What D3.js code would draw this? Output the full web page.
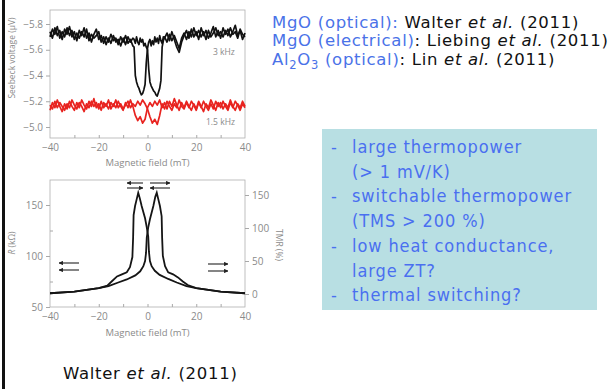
<!DOCTYPE html>
<html>
<head>
<meta charset="utf-8">
<script src="https://cdn.jsdelivr.net/npm/d3@7"></script>
<style>
  body { margin: 0; background: #fff; }
  svg { display: block; }
  .ax text { font-family: "Open Sans", sans-serif; fill: #8a8a8a; }
  .ax line, .ax path { stroke: #a8a8a8; }
</style>
</head>
<body>
<svg id="slide" width="611" height="389"></svg>
<script>
// field sweep grids (mT): 1 mT steps, 0.5 mT around the switching region for 3 kHz
const fieldGrid = d3.range(-40, 41);
const fieldFine = d3.range(-40, -5.5).concat(d3.range(-5.5, 7.01, 0.5), d3.range(8, 41));

// Seebeck voltage (uV), 3 kHz, two sweeps (on fieldFine)
const black3kA = [-5.74,-5.69,-5.77,-5.71,-5.75,-5.68,-5.76,-5.72,-5.78,-5.70,-5.74,-5.67,-5.75,-5.71,-5.77,-5.69,-5.73,-5.66,-5.72,-5.76,-5.68,-5.71,-5.65,-5.70,-5.66,-5.72,-5.67,-5.69,-5.64,-5.70,-5.66,-5.71,-5.65,-5.68,-5.63,
  -5.62,-5.40,-5.35,-5.32,-5.30,-5.27,-5.25,-5.26,-5.29,-5.33,-5.50,-5.61,-5.66,-5.68,-5.63,-5.67,-5.64,-5.70,-5.66,-5.69,-5.65,-5.71,-5.67,-5.65,-5.70,-5.69,
  -5.73,-5.67,-5.74,-5.68,-5.62,-5.58,-5.66,-5.71,-5.75,-5.69,-5.76,-5.70,-5.74,-5.68,-5.77,-5.71,-5.75,-5.69,-5.73,-5.78,-5.70,-5.75,-5.69,-5.77,-5.72,-5.76,-5.70,-5.74,-5.79,-5.71,-5.75,-5.68,-5.73];
const black3kB = [-5.70,-5.76,-5.72,-5.78,-5.69,-5.74,-5.70,-5.77,-5.71,-5.75,-5.68,-5.73,-5.69,-5.74,-5.70,-5.76,-5.67,-5.72,-5.69,-5.71,-5.74,-5.66,-5.70,-5.64,-5.69,-5.65,-5.71,-5.66,-5.68,-5.63,-5.69,-5.64,-5.70,-5.66,-5.69,
  -5.68,-5.65,-5.70,-5.66,-5.64,-5.69,-5.66,-5.68,-5.63,-5.65,-5.62,-5.60,-5.45,-5.35,-5.32,-5.30,-5.28,-5.27,-5.25,-5.24,-5.27,-5.30,-5.36,-5.62,-5.67,-5.70,
  -5.66,-5.72,-5.67,-5.71,-5.66,-5.61,-5.69,-5.73,-5.68,-5.74,-5.70,-5.77,-5.71,-5.75,-5.70,-5.74,-5.68,-5.75,-5.70,-5.73,-5.77,-5.71,-5.74,-5.70,-5.75,-5.71,-5.77,-5.72,-5.74,-5.69,-5.76,-5.72,-5.70];
// 1.5 kHz (on fieldGrid)
const red15kA = [-5.13,-5.19,-5.15,-5.21,-5.16,-5.12,-5.18,-5.14,-5.20,-5.16,-5.13,-5.19,-5.15,-5.21,-5.17,-5.14,-5.20,-5.16,-5.22,-5.15,-5.18,-5.13,-5.19,-5.16,-5.21,-5.14,-5.18,-5.15,-5.20,-5.16,-5.13,-5.19,-5.15,-5.21,-5.16,-5.09,-5.05,-5.08,-5.03,-5.06,-5.15,-5.19,-5.16,-5.20,-5.17,-5.21,-5.15,-5.19,-5.14,-5.20,-5.16,-5.22,-5.17,-5.13,-5.19,-5.15,-5.20,-5.16,-5.13,-5.18,-5.14,-5.20,-5.16,-5.12,-5.18,-5.15,-5.21,-5.17,-5.13,-5.19,-5.15,-5.20,-5.16,-5.13,-5.19,-5.15,-5.20,-5.17,-5.13,-5.18,-5.15];
const red15kB = [-5.17,-5.14,-5.20,-5.15,-5.19,-5.16,-5.13,-5.18,-5.15,-5.21,-5.17,-5.14,-5.19,-5.16,-5.12,-5.18,-5.15,-5.20,-5.16,-5.19,-5.14,-5.20,-5.15,-5.18,-5.14,-5.19,-5.16,-5.21,-5.15,-5.18,-5.14,-5.17,-5.20,-5.15,-5.18,-5.16,-5.20,-5.17,-5.21,-5.18,-5.14,-5.08,-5.03,-5.06,-5.02,-5.09,-5.18,-5.14,-5.20,-5.16,-5.13,-5.18,-5.15,-5.21,-5.16,-5.14,-5.19,-5.15,-5.20,-5.17,-5.13,-5.19,-5.15,-5.20,-5.16,-5.13,-5.18,-5.14,-5.20,-5.16,-5.19,-5.14,-5.18,-5.15,-5.21,-5.16,-5.13,-5.18,-5.15,-5.20,-5.16];

// resistance (kOhm) vs field, two sweep directions
const sweepLeftField = [-40,-30,-20,-16.5,-14.5,-12.5,-10.5,-8.5,-7.2,-6.2,-5.9,-5.7,-5.1,-4.4,-3.8,-3.2,-2.4,-1,-0.3,0.3,0.6,1,1.7,3,5,8.5,12,16,20,30,40];
const sweepLeftR     = [63.5,65,68.5,71,75.5,80,82,84,89,99,118,140,149,156,162,157,149,137,128,119,104,95,90,85.5,81.5,77.5,74,70.5,68.5,65,63.5];
const sweepRightField = [-40,-30,-20,-16,-12,-8.5,-5,-3,-1.7,-1,-0.6,-0.3,0.3,1,2.4,3.2,3.8,4.4,5.1,5.8,6,6.3,7.2,8.5,10.5,12.5,14.5,16.5,20,30,40];
const sweepRightR     = [63.5,65,68.5,70.5,74,77,81,85,90,95,103,118,128,136,149,158,162,156,149,139,118,100,90,84,82,79,75,71.5,68.5,65,63.5];

const fieldTicks = [-40, -20, 0, 20, 40];
const seebeckTicks = [-5.8, -5.6, -5.4, -5.2, -5.0];
const rTicks = [50, 100, 150];
const tmrTicks = [0, 50, 100, 150];

const refLines = [
  {head: "MgO (optical):", name: " Walter ", year: " (2011)"},
  {head: "MgO (electrical)", name: ": Liebing ", year: " (2011)"},
  {head: null, name: ": Lin ", year: " (2011)"}
];
const bullets = [
  ["-", "large thermopower"], ["", "(> 1 mV/K)"],
  ["-", "switchable thermopower"], ["", "(TMS > 200 %)"],
  ["-", "low heat conductance,"], ["", "large ZT?"],
  ["-", "thermal switching?"]
];

const svg = d3.select("#slide");
const minus = s => String(s).replace("-", "\u2212");

// left slide border
svg.append("rect").attr("x", 2).attr("y", 0).attr("width", 3).attr("height", 389).attr("fill", "#111");

// ---------- top panel: Seebeck voltage ----------
const x = d3.scaleLinear().domain([-40, 40]).range([50, 245]);
const yS = d3.scaleLinear().domain([-5.8, -5.0]).range([24, 127]);
const topPanel = svg.append("g");
topPanel.append("rect").attr("x", 50).attr("y", 10).attr("width", 195).attr("height", 128)
  .attr("fill", "none").attr("stroke", "#b0b0b0").attr("stroke-width", 0.8);

topPanel.append("g").attr("class", "ax").attr("transform", "translate(50,0)")
  .call(d3.axisLeft(yS).tickValues(seebeckTicks).tickSize(4).tickFormat(d => minus(d.toFixed(1))))
  .call(g => g.select(".domain").remove())
  .selectAll("text").attr("font-size", 10);
topPanel.append("g").attr("class", "ax").attr("transform", "translate(0,138)")
  .call(d3.axisBottom(x).tickValues(fieldTicks).tickSize(0).tickPadding(6).tickFormat(minus))
  .call(g => g.select(".domain").remove())
  .selectAll("text").attr("font-size", 10);
topPanel.append("g").attr("class", "ax").attr("transform", "translate(0,138)")
  .call(d3.axisTop(x).tickValues([-30, -20, -10, 0, 10, 20, 30]).tickSize(3).tickFormat(""))
  .call(g => g.select(".domain").remove());

const lineOn = grid => d3.line().x((d, i) => x(grid[i])).y(d => yS(d));
[[black3kA, fieldFine, "#111"], [black3kB, fieldFine, "#111"],
 [red15kA, fieldGrid, "#e8231f"], [red15kB, fieldGrid, "#e8231f"]].forEach(([s, grid, c]) => {
  topPanel.append("path").datum(s).attr("d", lineOn(grid)).attr("fill", "none")
    .attr("stroke", c).attr("stroke-width", 1.7).attr("stroke-linejoin", "round");
});

topPanel.append("text").attr("x", 213).attr("y", 55).text("3 kHz")
  .attr("font-family", "Open Sans").attr("font-size", 8.5).attr("fill", "#8a8a8a");
topPanel.append("text").attr("x", 206).attr("y", 125).text("1.5 kHz")
  .attr("font-family", "Open Sans").attr("font-size", 8.5).attr("fill", "#8a8a8a");
topPanel.append("text").attr("x", 147.5).attr("y", 166).attr("text-anchor", "middle")
  .text("Magnetic field (mT)").attr("font-family", "Open Sans").attr("font-size", 9.5).attr("fill", "#8a8a8a");
topPanel.append("text").attr("transform", "translate(15,58) rotate(-90)").attr("text-anchor", "middle")
  .text("Seebeck voltage (\u03bcV)").attr("font-family", "Open Sans").attr("font-size", 8.5).attr("fill", "#8a8a8a");

// ---------- bottom panel: resistance ----------
const yR = d3.scaleLinear().domain([50, 150]).range([307, 205]);
const yT = d3.scaleLinear().domain([0, 150]).range([294, 195]);
const bot = svg.append("g");
bot.append("rect").attr("x", 50).attr("y", 180).attr("width", 195).attr("height", 127)
  .attr("fill", "none").attr("stroke", "#b0b0b0").attr("stroke-width", 0.8);

bot.append("g").attr("class", "ax").attr("transform", "translate(50,0)")
  .call(d3.axisLeft(yR).tickValues(rTicks).tickSize(4))
  .call(g => g.select(".domain").remove())
  .selectAll("text").attr("font-size", 10);
bot.append("g").attr("class", "ax").attr("transform", "translate(50,0)")
  .call(d3.axisRight(yR).tickValues([75, 125]).tickSize(3).tickFormat(""))
  .call(g => g.select(".domain").remove());
bot.append("g").attr("class", "ax").attr("transform", "translate(245,0)")
  .call(d3.axisRight(yT).tickValues(tmrTicks).tickSize(4))
  .call(g => g.select(".domain").remove())
  .selectAll("text").attr("font-size", 10);
bot.append("g").attr("class", "ax").attr("transform", "translate(0,307)")
  .call(d3.axisBottom(x).tickValues(fieldTicks).tickSize(0).tickPadding(6).tickFormat(minus))
  .call(g => g.select(".domain").remove())
  .selectAll("text").attr("font-size", 10);
bot.append("g").attr("class", "ax").attr("transform", "translate(0,307)")
  .call(d3.axisTop(x).tickValues([-30, -20, -10, 0, 10, 20, 30]).tickSize(3).tickFormat(""))
  .call(g => g.select(".domain").remove());

const lineR = fld => d3.line().x((d, i) => x(fld[i])).y(d => yR(d));
bot.append("path").datum(sweepLeftR).attr("d", lineR(sweepLeftField))
  .attr("fill", "none").attr("stroke", "#151515").attr("stroke-width", 1.8);
bot.append("path").datum(sweepRightR).attr("d", lineR(sweepRightField))
  .attr("fill", "none").attr("stroke", "#151515").attr("stroke-width", 1.8);

// magnetization arrows
const defs = svg.append("defs");
defs.append("marker").attr("id", "ah").attr("viewBox", "0 0 10 10").attr("refX", 9).attr("refY", 5)
  .attr("markerWidth", 4).attr("markerHeight", 4).attr("orient", "auto")
  .append("path").attr("d", "M0,0L10,5L0,10z").attr("fill", "#222");
const arrows = [
  [127, 143, 183, -1], [127, 143, 188, 1], [150, 170, 183, 1], [150, 170, 188, -1],
  [59, 79, 263, -1], [59, 79, 270, -1], [208, 228, 264, 1], [208, 228, 271, 1]
];
bot.selectAll(".arr").data(arrows).join("line")
  .attr("x1", d => d[3] > 0 ? d[0] : d[1]).attr("x2", d => d[3] > 0 ? d[1] : d[0])
  .attr("y1", d => d[2]).attr("y2", d => d[2])
  .attr("stroke", "#222").attr("stroke-width", 1.1).attr("marker-end", "url(#ah)");

bot.append("text").attr("x", 147.5).attr("y", 336).attr("text-anchor", "middle")
  .text("Magnetic field (mT)").attr("font-family", "Open Sans").attr("font-size", 9.5).attr("fill", "#8a8a8a");
const rl = bot.append("text").attr("transform", "translate(15,243) rotate(-90)").attr("text-anchor", "middle")
  .attr("font-family", "Open Sans").attr("font-size", 8.5).attr("fill", "#8a8a8a");
rl.append("tspan").attr("font-style", "italic").text("R");
rl.append("tspan").text(" (k\u03a9)");
bot.append("text").attr("transform", "translate(276,245) rotate(90)").attr("text-anchor", "middle")
  .text("TMR (%)").attr("font-family", "Open Sans").attr("font-size", 8.5).attr("fill", "#8a8a8a");

// ---------- references text ----------
const blue = "#4a72e8";
const refs = svg.append("g").attr("font-family", "DejaVu Sans").attr("font-size", 16.5)
  .attr("letter-spacing", 0.7);
refLines.forEach((r, i) => {
  const t = refs.append("text").attr("x", 272).attr("y", 28 + i * 18.3);
  if (r.head) {
    t.append("tspan").attr("fill", blue).text(r.head);
  } else {
    t.append("tspan").attr("fill", blue).text("Al");
    t.append("tspan").attr("fill", blue).attr("font-size", 11.5).attr("dy", 4).text("2");
    t.append("tspan").attr("fill", blue).attr("dy", -4).text("O");
    t.append("tspan").attr("fill", blue).attr("font-size", 11.5).attr("dy", 4).text("3");
    t.append("tspan").attr("fill", blue).attr("dy", -4).text(" (optical)");
  }
  t.append("tspan").attr("fill", "#111").text(r.name);
  t.append("tspan").attr("fill", "#111").attr("font-style", "italic").text("et al.");
  t.append("tspan").attr("fill", "#111").text(r.year);
});

// ---------- highlight box ----------
svg.append("rect").attr("x", 322).attr("y", 129).attr("width", 275).attr("height", 181).attr("fill", "#b8dfe3");
const bx = svg.append("g").attr("font-family", "'DejaVu Sans Condensed', 'DejaVu Sans'")
  .attr("font-stretch", "condensed").attr("font-size", 18).attr("letter-spacing", 0.9).attr("fill", "#4a6ff0");
bullets.forEach((b, i) => {
  bx.append("text").attr("x", 331).attr("y", 153 + i * 24.7).text(b[0]);
  bx.append("text").attr("x", 352).attr("y", 153 + i * 24.7).text(b[1]);
});

// ---------- citation ----------
const cite = svg.append("text").attr("x", 63).attr("y", 379).attr("font-family", "DejaVu Sans")
  .attr("font-size", 16.5).attr("letter-spacing", 0.7).attr("fill", "#111");
cite.append("tspan").text("Walter ");
cite.append("tspan").attr("font-style", "italic").text("et al.");
cite.append("tspan").text(" (2011)");
</script>
</body>
</html>
